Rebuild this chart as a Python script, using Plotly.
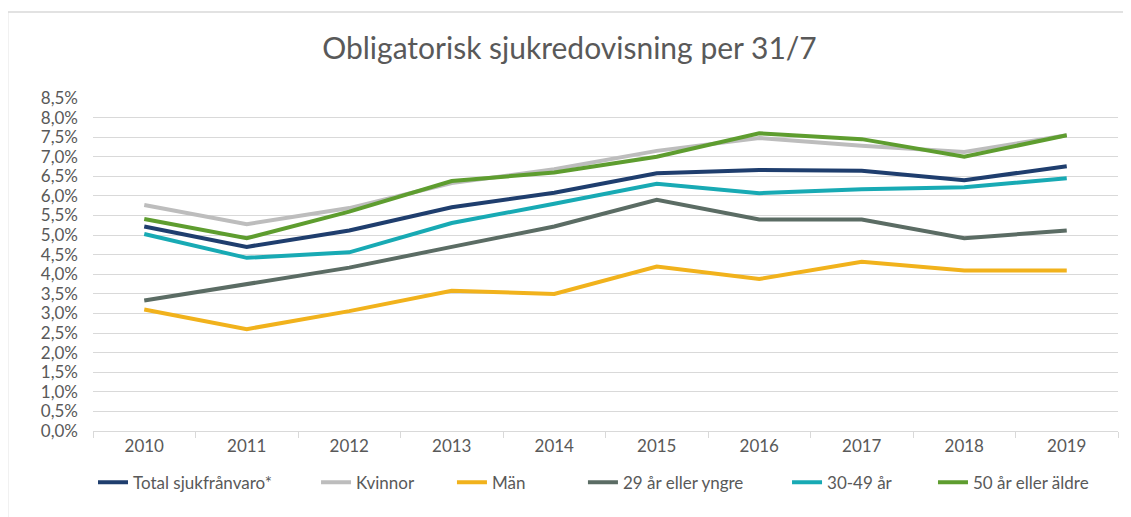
import plotly.graph_objects as go

years = ["2010", "2011", "2012", "2013", "2014", "2015", "2016", "2017", "2018", "2019"]
total = [5.22, 4.70, 5.12, 5.71, 6.08, 6.58, 6.66, 6.64, 6.40, 6.76]
kvinnor = [5.77, 5.28, 5.69, 6.33, 6.68, 7.15, 7.48, 7.28, 7.12, 7.55]
man = [3.10, 2.60, 3.06, 3.58, 3.50, 4.20, 3.88, 4.32, 4.10, 4.10]
yngre = [3.33, 3.75, 4.17, 4.70, 5.22, 5.90, 5.40, 5.40, 4.92, 5.12]
mellan = [5.03, 4.42, 4.56, 5.31, 5.80, 6.31, 6.07, 6.17, 6.22, 6.45]
aldre = [5.41, 4.92, 5.60, 6.38, 6.60, 7.00, 7.60, 7.45, 7.00, 7.55]

series = [
    ("Total sjukfrånvaro*", total, "#1F3E6E"),
    ("Kvinnor", kvinnor, "#BDBDBD"),
    ("Män", man, "#F1B21C"),
    ("29 år eller yngre", yngre, "#5B6C64"),
    ("30-49 år", mellan, "#18AAB4"),
    ("50 år eller äldre", aldre, "#5E9D2F"),
]
legend_x = [0.0, 0.2176, 0.3502, 0.4780, 0.6771, 0.8195]

fig = go.Figure()
legend_layout = {}
for i, (name, vals, col) in enumerate(series):
    lname = "legend" if i == 0 else "legend%d" % (i + 1)
    fig.add_trace(go.Scatter(x=years, y=vals, mode="lines", name=name,
                             legend=lname, line=dict(color=col, width=4)))
    legend_layout[lname] = dict(orientation="h", x=legend_x[i], xanchor="left",
                                y=-0.155, yanchor="middle", bgcolor="rgba(0,0,0,0)",
                                font=dict(size=17, color="#595959"), itemwidth=30)

fig.update_layout(
    width=1123, height=509,
    margin=dict(l=85, r=13, t=90, b=86),
    paper_bgcolor="white", plot_bgcolor="white",
    separators=",.",
    font=dict(family="Lato, Open Sans, sans-serif", color="#595959", size=17),
    title=dict(text="Obligatorisk sjukredovisning per 31/7", x=0.5, xanchor="center",
               y=0.921, yanchor="middle", font=dict(size=30, color="#595959")),
    showlegend=True,
    shapes=[dict(type="rect", xref="paper", yref="paper", x0=-0.0833, x1=1.05,
                 y0=-0.4, y1=1.258, line=dict(color="#D9D9D9", width=1.5),
                 fillcolor="rgba(0,0,0,0)", layer="below")],
    **legend_layout,
)
fig.update_xaxes(type="category", range=[-0.5, 9.5], showgrid=False, showline=True,
                 linecolor="#D9D9D9", linewidth=1, ticks="outside", tickson="boundaries",
                 ticklen=6, tickcolor="#D9D9D9", tickfont=dict(size=17, color="#595959"))
fig.update_yaxes(range=[0, 8.5], dtick=0.5, tick0=0, tickformat=".1f", ticksuffix="%",
                 showgrid=True, gridcolor="#D9D9D9", gridwidth=1, zeroline=False,
                 showline=False, tickfont=dict(size=17, color="#595959"), ticklabelstandoff=14)

fig.write_html("out.html")
